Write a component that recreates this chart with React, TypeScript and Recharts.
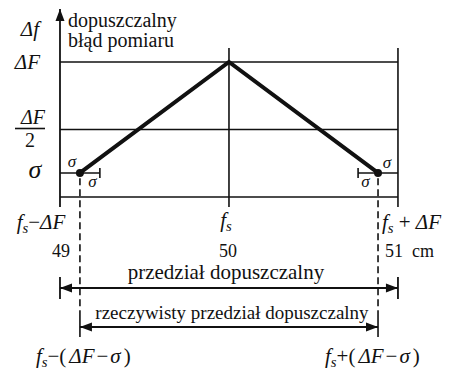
import type { ReactNode } from "react";
import {
  ComposedChart,
  Line,
  ReferenceDot,
  ReferenceLine,
  XAxis,
  YAxis,
} from "recharts";

const SERIF = '"Liberation Serif", "DejaVu Serif", serif';
const INK = "#111";

// x: measured length (cm), y: allowed measurement error (in units of ΔF)
const gridX = [49, 50, 51];
const levelY = [1, 0.5];
const sigmaY = 0.178;
const curveX = [49.118, 50, 50.882];
const curveY = [0.178, 1, 0.178];
const valueLabels = ["49", "50", "51"];
const unitLabel = "cm";
const axisTitle = ["dopuszczalny", "błąd pomiaru"];
const rangeLabels = ["przedział dopuszczalny", "rzeczywisty przedział dopuszczalny"];

const curve = curveX.map((x, i) => ({ x, y: curveY[i] }));

const X_DOMAIN = [48.645, 51.302];
const Y_DOMAIN = [-1.2815, 1.4593];
const AXIS_TOP = 1.393;
const GRID_TOP = 1.104;
const TICK_BOTTOM = -0.074;
const OUTER_ARROW = -0.674;
const INNER_ARROW = -0.963;
const DASH_END = -1.037;

type Opts = {
  dx: number;
  dy: number;
  anchor?: "start" | "middle" | "end";
  size?: number;
  italic?: boolean;
};

const textShape = (content: ReactNode, o: Opts) => (p: any) => (
  <text
    x={p.cx + o.dx}
    y={p.cy + o.dy}
    textAnchor={o.anchor ?? "middle"}
    fontSize={o.size ?? 20}
    fontFamily={SERIF}
    fontStyle={o.italic ? "italic" : "normal"}
    fill={INK}
  >
    {content}
  </text>
);

const fracShape = (p: any) => (
  <g fontFamily={SERIF} fontSize={20} fill={INK}>
    <text x={p.cx - 27} y={p.cy - 6} textAnchor="middle" fontStyle="italic">
      ΔF
    </text>
    <line x1={p.cx - 45} x2={p.cx - 15} y1={p.cy - 1} y2={p.cy - 1} stroke={INK} strokeWidth={1.6} />
    <text x={p.cx - 30} y={p.cy + 17} textAnchor="middle">
      2
    </text>
  </g>
);

const fs = (
  <>
    <tspan fontStyle="italic">f</tspan>
    <tspan fontStyle="italic" fontSize="70%" dy={4}>
      s
    </tspan>
  </>
);

const bracket = (sign: string) => (
  <>
    {fs}
    <tspan dy={-4}>{sign}(</tspan>
    <tspan dx={3} fontStyle="italic">ΔF</tspan>
    <tspan dx={2}>−</tspan>
    <tspan dx={2} fontStyle="italic">σ</tspan>
    <tspan dx={3}>)</tspan>
  </>
);

const arrowShape =
  (heads: ("start" | "end")[], width = 1.8) =>
  (p: any) => {
    const { x1, y1, x2, y2 } = p;
    const len = Math.hypot(x2 - x1, y2 - y1) || 1;
    const ux = (x2 - x1) / len;
    const uy = (y2 - y1) / len;
    const head = (tx: number, ty: number, dir: number) => {
      const L = 12;
      const W = 4.5;
      const bx = tx - dir * ux * L;
      const by = ty - dir * uy * L;
      return `${tx},${ty} ${bx - uy * W},${by + ux * W} ${bx + uy * W},${by - ux * W}`;
    };
    return (
      <g>
        <line x1={x1} y1={y1} x2={x2} y2={y2} stroke={INK} strokeWidth={width} />
        {heads.includes("end") && <polygon points={head(x2, y2, 1)} fill={INK} />}
        {heads.includes("start") && <polygon points={head(x1, y1, -1)} fill={INK} />}
      </g>
    );
  };

const endDot = (p: any) =>
  p.index === 1 ? <g key={p.index} /> : <circle key={p.index} cx={p.cx} cy={p.cy} r={4} fill={INK} />;

export default function App() {
  const [left, mid, right] = gridX;
  const [lo, , hi] = curveX;
  return (
    <div style={{ position: "absolute", left: 0, top: 0, background: "#fff" }}>
      <ComposedChart
        width={449}
        height={370}
        data={curve}
        margin={{ top: 0, right: 0, bottom: 0, left: 0 }}
      >
        <XAxis type="number" dataKey="x" domain={X_DOMAIN} allowDataOverflow hide />
        <YAxis type="number" domain={Y_DOMAIN} allowDataOverflow hide />

        {/* grid: levels and verticals */}
        {levelY.map((v) => (
          <ReferenceLine
            key={`h${v}`}
            segment={[{ x: left, y: v }, { x: right, y: v }]}
            stroke={INK}
            strokeWidth={1.6}
            ifOverflow="visible"
          />
        ))}
        <ReferenceLine
          segment={[{ x: left, y: 0 }, { x: right, y: 0 }]}
          stroke={INK}
          strokeWidth={1.6}
          ifOverflow="visible"
        />
        <ReferenceLine
          segment={[{ x: left, y: TICK_BOTTOM }, { x: left, y: AXIS_TOP }]}
          shape={arrowShape(["end"], 1.8)}
          ifOverflow="visible"
        />
        {[mid, right].map((v) => (
          <ReferenceLine
            key={`v${v}`}
            segment={[{ x: v, y: TICK_BOTTOM }, { x: v, y: GRID_TOP }]}
            stroke={INK}
            strokeWidth={1.6}
            ifOverflow="visible"
          />
        ))}

        {/* σ segments with end ticks */}
        <ReferenceLine segment={[{ x: left, y: sigmaY }, { x: 49.236, y: sigmaY }]} stroke={INK} strokeWidth={1.6} ifOverflow="visible" />
        <ReferenceLine segment={[{ x: 50.764, y: sigmaY }, { x: right, y: sigmaY }]} stroke={INK} strokeWidth={1.6} ifOverflow="visible" />
        {[49.236, 50.764].map((v) => (
          <ReferenceLine
            key={`t${v}`}
            segment={[{ x: v, y: sigmaY + 0.037 }, { x: v, y: sigmaY - 0.037 }]}
            stroke={INK}
            strokeWidth={1.6}
            ifOverflow="visible"
          />
        ))}

        {/* dashed limits of the real interval */}
        {[lo, hi].map((v) => (
          <ReferenceLine
            key={`d${v}`}
            segment={[{ x: v, y: sigmaY - 0.04 }, { x: v, y: -0.86 }]}
            stroke={INK}
            strokeWidth={1.6}
            strokeDasharray="7 4"
            ifOverflow="visible"
          />
        ))}
        {[lo, hi].map((v) => (
          <ReferenceLine
            key={`s${v}`}
            segment={[{ x: v, y: -0.86 }, { x: v, y: DASH_END }]}
            stroke={INK}
            strokeWidth={1.6}
            ifOverflow="visible"
          />
        ))}

        {/* interval arrows */}
        {[left, right].map((v) => (
          <ReferenceLine
            key={`b${v}`}
            segment={[{ x: v, y: OUTER_ARROW + 0.082 }, { x: v, y: OUTER_ARROW - 0.082 }]}
            stroke={INK}
            strokeWidth={1.8}
            ifOverflow="visible"
          />
        ))}
        <ReferenceLine
          segment={[{ x: left, y: OUTER_ARROW }, { x: right, y: OUTER_ARROW }]}
          shape={arrowShape(["start", "end"])}
          ifOverflow="visible"
        />
        <ReferenceLine
          segment={[{ x: lo, y: INNER_ARROW }, { x: hi, y: INNER_ARROW }]}
          shape={arrowShape(["start", "end"])}
          ifOverflow="visible"
        />

        <Line
          type="linear"
          dataKey="y"
          stroke={INK}
          strokeWidth={4}
          dot={endDot}
          activeDot={false}
          isAnimationActive={false}
        />

        {/* axis labels */}
        <ReferenceDot x={left} y={AXIS_TOP} r={0} ifOverflow="visible" shape={textShape("Δf", { dx: -21, dy: 27, anchor: "end", size: 21, italic: true })} />
        <ReferenceDot x={left} y={AXIS_TOP} r={0} ifOverflow="visible" shape={textShape(axisTitle[0], { dx: 8, dy: 18, anchor: "start", size: 20 })} />
        <ReferenceDot x={left} y={AXIS_TOP} r={0} ifOverflow="visible" shape={textShape(axisTitle[1], { dx: 8, dy: 38, anchor: "start", size: 20 })} />
        <ReferenceDot x={left} y={levelY[0]} r={0} ifOverflow="visible" shape={textShape("ΔF", { dx: -20, dy: 7, anchor: "end", size: 21, italic: true })} />
        <ReferenceDot x={left} y={levelY[1]} r={0} ifOverflow="visible" shape={fracShape} />
        <ReferenceDot x={left} y={sigmaY} r={0} ifOverflow="visible" shape={textShape("σ", { dx: -25, dy: 5, size: 26, italic: true })} />

        {/* small σ marks near the end points */}
        <ReferenceDot x={lo} y={sigmaY} r={0} ifOverflow="visible" shape={textShape("σ", { dx: -8, dy: -6, size: 17, italic: true })} />
        <ReferenceDot x={lo} y={sigmaY} r={0} ifOverflow="visible" shape={textShape("σ", { dx: 12.5, dy: 14, size: 17, italic: true })} />
        <ReferenceDot x={hi} y={sigmaY} r={0} ifOverflow="visible" shape={textShape("σ", { dx: 9, dy: -5, size: 17, italic: true })} />
        <ReferenceDot x={hi} y={sigmaY} r={0} ifOverflow="visible" shape={textShape("σ", { dx: -12.5, dy: 14, size: 17, italic: true })} />

        {/* x labels */}
        <ReferenceDot
          x={left}
          y={0}
          r={0}
          ifOverflow="visible"
          shape={textShape(
            <>
              {fs}
              <tspan dy={-4}>−</tspan>
              <tspan fontStyle="italic">ΔF</tspan>
            </>,
            { dx: -19, dy: 32, size: 21 }
          )}
        />
        <ReferenceDot x={mid} y={0} r={0} ifOverflow="visible" shape={textShape(fs, { dx: -3, dy: 30, size: 21 })} />
        <ReferenceDot
          x={right}
          y={0}
          r={0}
          ifOverflow="visible"
          shape={textShape(
            <>
              {fs}
              <tspan dy={-4}> + </tspan>
              <tspan fontStyle="italic">ΔF</tspan>
            </>,
            { dx: -16, dy: 32, anchor: "start", size: 21 }
          )}
        />
        <ReferenceDot x={left} y={0} r={0} ifOverflow="visible" shape={textShape(valueLabels[0], { dx: 1, dy: 60, size: 18 })} />
        <ReferenceDot x={mid} y={0} r={0} ifOverflow="visible" shape={textShape(valueLabels[1], { dx: -1, dy: 60, size: 18 })} />
        <ReferenceDot
          x={right}
          y={0}
          r={0}
          ifOverflow="visible"
          shape={textShape(
            <>
              {valueLabels[2]}
              <tspan dx={9}>{unitLabel}</tspan>
            </>,
            { dx: -13, dy: 60, anchor: "start", size: 18 }
          )}
        />

        {/* interval labels */}
        <ReferenceDot x={mid} y={OUTER_ARROW} r={0} ifOverflow="visible" shape={textShape(rangeLabels[0], { dx: -3, dy: -9, size: 21 })} />
        <ReferenceDot x={mid} y={INNER_ARROW} r={0} ifOverflow="visible" shape={textShape(rangeLabels[1], { dx: 3, dy: -8, size: 19 })} />
        <ReferenceDot
          x={lo}
          y={DASH_END}
          r={0}
          ifOverflow="visible"
          shape={textShape(bracket("−"), { dx: -44, dy: 26, anchor: "start", size: 21 })}
        />
        <ReferenceDot
          x={hi}
          y={DASH_END}
          r={0}
          ifOverflow="visible"
          shape={textShape(bracket("+"), { dx: -53, dy: 26, anchor: "start", size: 21 })}
        />
      </ComposedChart>
    </div>
  );
}
